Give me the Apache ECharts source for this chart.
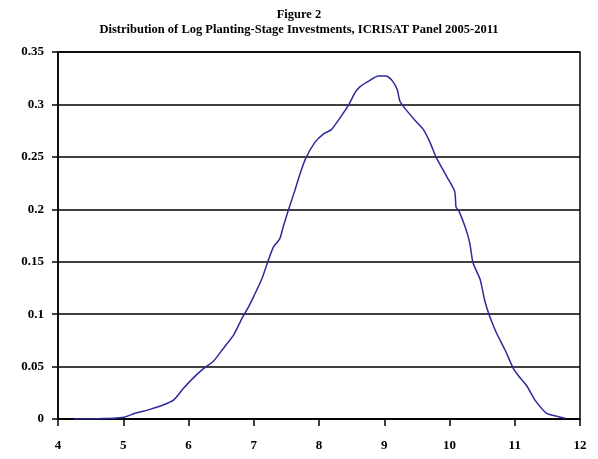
<!DOCTYPE html>
<html>
<head>
<meta charset="utf-8">
<script src="https://cdn.jsdelivr.net/npm/echarts@6/dist/echarts.min.js"></script>
<style>
html,body{margin:0;padding:0;background:#fff;}
#chart{width:598px;height:459px;}
</style>
</head>
<body>
<div id="chart"></div>
<script>
const titleLine1 = "Figure 2";
const titleLine2 = "Distribution of Log Planting-Stage Investments, ICRISAT Panel 2005-2011";
const xTicks = [4, 5, 6, 7, 8, 9, 10, 11, 12];
const yTicks = [0, 0.05, 0.1, 0.15, 0.2, 0.25, 0.3, 0.35];
const logInvestment = [4.24, 4.5, 4.72, 4.9, 5.03, 5.18, 5.41, 5.61, 5.77, 5.92, 6.07, 6.23, 6.38, 6.53, 6.69, 6.82, 6.92, 7.0, 7.12, 7.21, 7.30, 7.40, 7.45, 7.53, 7.63, 7.71, 7.80, 7.94, 8.07, 8.19, 8.32, 8.45, 8.55, 8.63, 8.78, 8.91, 9.03, 9.13, 9.20, 9.24, 9.32, 9.47, 9.60, 9.70, 9.80, 9.96, 10.08, 10.10, 10.14, 10.24, 10.31, 10.36, 10.47, 10.54, 10.61, 10.72, 10.85, 10.98, 11.06, 11.19, 11.31, 11.49, 11.67, 11.77];
const density = [0.0, 0.0, 0.0005, 0.001, 0.002, 0.0054, 0.0092, 0.0133, 0.018, 0.029, 0.039, 0.048, 0.055, 0.067, 0.080, 0.096, 0.107, 0.117, 0.133, 0.149, 0.164, 0.172, 0.183, 0.199, 0.218, 0.234, 0.249, 0.264, 0.272, 0.276, 0.287, 0.299, 0.311, 0.317, 0.323, 0.327, 0.327, 0.322, 0.314, 0.303, 0.296, 0.285, 0.276, 0.264, 0.249, 0.231, 0.217, 0.202, 0.199, 0.183, 0.168, 0.149, 0.133, 0.113, 0.099, 0.082, 0.066, 0.048, 0.041, 0.031, 0.018, 0.0054, 0.0022, 0.0007];

const seriesData = logInvestment.map((x, i) => [x, density[i]]);
const chart = echarts.init(document.getElementById('chart'));
const fontFam = '"Liberation Serif", "DejaVu Serif", serif';
chart.setOption({
  animation: false,
  backgroundColor: '#ffffff',
  title: {
    text: titleLine1 + '\n' + titleLine2,
    left: 'center',
    top: 2,
    textStyle: {
      fontFamily: fontFam,
      fontWeight: 'bold',
      fontSize: 12.5,
      lineHeight: 15,
      color: '#000'
    }
  },
  grid: {
    left: 58, right: 18, top: 52, bottom: 40,
    show: true,
    borderColor: '#000',
    borderWidth: 1.5
  },
  xAxis: {
    type: 'value',
    min: xTicks[0],
    max: xTicks[xTicks.length - 1],
    interval: 1,
    axisLine: { lineStyle: { color: '#000', width: 1.5 } },
    axisTick: { show: true, length: 7, lineStyle: { color: '#000', width: 1.5 } },
    splitLine: { show: false },
    axisLabel: {
      color: '#000',
      fontFamily: fontFam,
      fontWeight: 'bold',
      fontSize: 13,
      margin: 20
    }
  },
  yAxis: {
    type: 'value',
    min: yTicks[0],
    max: yTicks[yTicks.length - 1],
    interval: 0.05,
    axisLine: { show: true, lineStyle: { color: '#000', width: 1.5 } },
    axisTick: { show: true, length: 6, lineStyle: { color: '#000', width: 1.5 } },
    splitLine: { show: true, lineStyle: { color: '#000', width: 1.5 } },
    axisLabel: {
      color: '#000',
      fontFamily: fontFam,
      fontWeight: 'bold',
      fontSize: 13,
      margin: 14,
      formatter: v => String(Math.round(v * 100) / 100)
    }
  },
  series: [{
    type: 'line',
    data: seriesData,
    showSymbol: false,
    smooth: 0.2,
    lineStyle: { color: '#2b2b9c', width: 1.5 }
  }]
});
</script>
</body>
</html>
